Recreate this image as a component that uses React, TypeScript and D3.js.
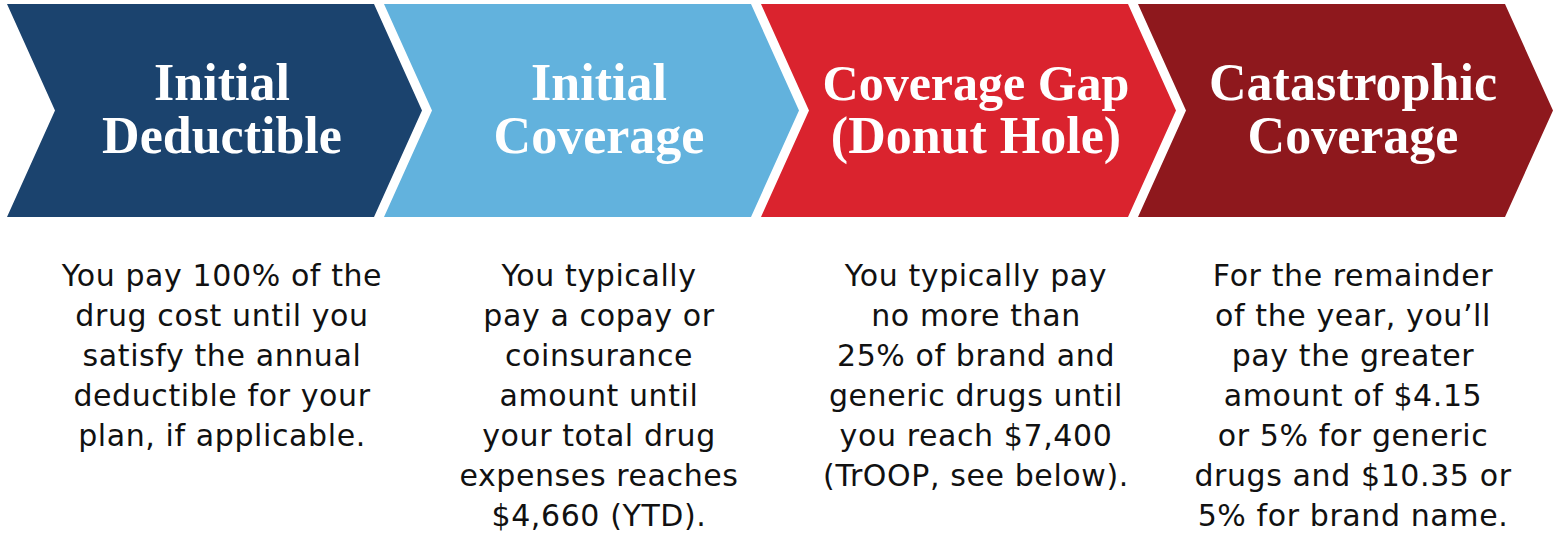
import React from "react";
import * as d3 from "d3";

const stages = ["Initial Deductible", "Initial Coverage", "Coverage Gap", "Catastrophic Coverage"];
const titleLines = [
  ["Initial", "Deductible"],
  ["Initial", "Coverage"],
  ["Coverage Gap", "(Donut Hole)"],
  ["Catastrophic", "Coverage"],
];
const descLines = [
  ["You pay 100% of the", "drug cost until you", "satisfy the annual", "deductible for your", "plan, if applicable."],
  ["You typically", "pay a copay or", "coinsurance", "amount until", "your total drug", "expenses reaches", "$4,660 (YTD)."],
  ["You typically pay", "no more than", "25% of brand and", "generic drugs until", "you reach $7,400", "(TrOOP, see below)."],
  ["For the remainder", "of the year, you\u2019ll", "pay the greater", "amount of $4.15", "or 5% for generic", "drugs and $10.35 or", "5% for brand name."],
];
const colors = ["#1b436e", "#62b2dd", "#da232e", "#8e181d"];

const W = 1559;
const H = 533;

export default function App() {
  const x = d3.scaleLinear().domain([0, 4]).range([7, 7 + 377 * 4]);
  const top = 4;
  const bot = 217;
  const mid = (top + bot) / 2;
  const depth = 48;
  const bodyW = 367;
  const line = d3.line<[number, number]>();
  const lineY = d3.scaleLinear().domain([0, 1]).range([286, 326]);
  const titleY = d3.scaleLinear().domain([0, 1]).range([100, 153]);

  return (
    <svg width={W} height={H} style={{ position: "absolute", left: 0, top: 0, background: "#fff" }}>
      {stages.map((s, i) => {
        const L = x(i);
        const R = L + bodyW;
        const pts: [number, number][] = [
          [L, top], [R, top], [R + depth, mid], [R, bot], [L, bot], [L + depth, mid],
        ];
        const cx = L + 215;
        return (
          <g key={s}>
            <path d={line(pts) + "Z"} fill={colors[i]} />
            {titleLines[i].map((t, j) => (
              <text key={j} x={cx} y={titleY(j)} textAnchor="middle" fill="#fff"
                fontFamily="'Liberation Serif', serif" fontWeight="bold" fontSize={j === 0 && i === 2 ? 50 : 52}>{t}</text>
            ))}
            {descLines[i].map((t, j) => (
              <text key={j} x={cx} y={lineY(j)} textAnchor="middle" fill="#111"
                fontFamily="'DejaVu Sans', sans-serif" fontSize={30} letterSpacing={0.6}>{t}</text>
            ))}
          </g>
        );
      })}
    </svg>
  );
}
